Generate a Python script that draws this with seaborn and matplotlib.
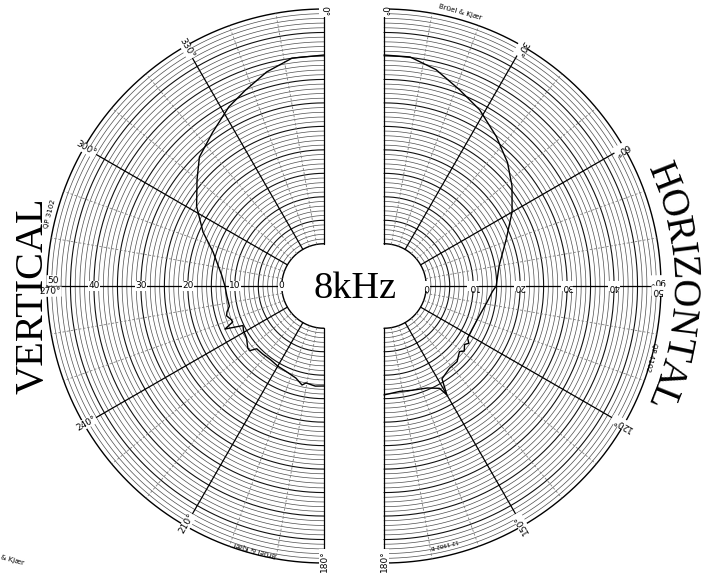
import numpy as np
import pandas as pd
import matplotlib
matplotlib.use("Agg")
import matplotlib.pyplot as plt
import seaborn as sns

# measured response, angle in degrees (0 = on axis), level on the 0..50 dB paper scale
vert_angle = [360, 352, 345, 338, 332, 324, 316, 310, 302, 294, 287, 276, 270, 264, 258,
              255, 253, 250, 248.5, 246.5, 244, 241, 236, 231, 229, 227, 222, 216, 210,
              204, 197, 192.5, 190.5, 185, 180]
vert_level = [40.2, 40.0, 38.2, 35.9, 34.2, 31.4, 29.2, 26.3, 23.0, 19.2, 15.7, 12.9, 12.1,
              11.8, 11.6, 12.4, 12.7, 12.0, 11.9, 14.0, 10.2, 10.6, 10.9, 11.9, 12.0, 10.6,
              10.5, 10.4, 10.7, 10.9, 11.5, 12.6, 12.0, 12.4, 12.3]

horiz_angle = [0, 6.5, 13.5, 21, 28.5, 37, 45, 52, 60, 69, 80, 90, 93, 99, 107, 116, 122,
               124, 126, 129, 131, 136, 141.5, 146, 148, 150, 151.5, 157, 165, 171.5, 180]
horiz_level = [40.2, 40.1, 38.4, 35.8, 33.7, 30.8, 28.2, 25.6, 22.5, 18.9, 15.9, 14.9, 14.1,
               13.2, 12.3, 11.9, 12.0, 12.8, 12.2, 13.0, 12.3, 13.4, 13.4, 14.0, 14.3, 17.8,
               15.8, 14.6, 14.0, 13.7, 14.2]

ring_levels = list(range(0, 51))
db_ticks = [0, 10, 20, 30, 40]
left_angle_labels = [0, 330, 300, 240, 210, 180]
right_angle_labels = [0, 30, 60, 120, 150, 180]
freq_text = "8kHz"

W, H = 709, 573
CY = 286          # centre height (px from top)
R = 277           # outer radius in px
RORIGIN = -9      # hole in the middle of the paper
LEFT_CX, RIGHT_CX = 324, 384
PX_PER_UNIT = R / (50 - RORIGIN)

sns.set_theme(style="white")
plt.rcParams["font.family"] = ["DejaVu Sans"]
plt.rcParams["text.color"] = "black"

fig = plt.figure(figsize=(W / 100, H / 100), dpi=100)
fig.patch.set_facecolor("white")


def half_axes(cx):
    ax = fig.add_axes([(cx - R) / W, (H - CY - R) / H, 2 * R / W, 2 * R / H],
                      projection="polar")
    ax.set_theta_zero_location("N")
    ax.set_theta_direction(-1)
    ax.set_ylim(0, 50)
    ax.set_rorigin(RORIGIN)
    ax.axis("off")
    ax.patch.set_alpha(0)
    return ax


def draw_paper(ax, a0, a1):
    th = np.radians(np.linspace(a0, a1, 361))
    for lv in ring_levels:
        if lv in (0, 50):
            c, lw = "black", 1.0
        elif lv % 5 == 0:
            c, lw = "#111111", 0.8
        else:
            c, lw = "#4d4d4d", 0.5
        ax.plot(th, np.full_like(th, lv), color=c, lw=lw, clip_on=False, zorder=1)
    for a in range(a0, a1 + 1, 10):
        t = np.radians([a, a])
        if a % 30 == 0:
            ax.plot(t, [0, 50], color="black", lw=0.9, clip_on=False, zorder=2)
        else:
            ax.plot(t, [0, 50], color="#808080", lw=0.6, ls=(0, (3, 2)),
                    clip_on=False, zorder=2)


def angle_label(ax, a, txt, r=49.5):
    ax.text(np.radians(a), r, txt, rotation=(270 - a) % 360, ha="center", va="center",
            fontsize=6.5, zorder=5, clip_on=False,
            bbox=dict(fc="white", ec="none", pad=0.4))


def arc_text(ax, a, r, txt, size=5):
    ax.text(np.radians(a), r, txt, rotation=(-a) % 360, ha="center", va="center",
            fontsize=size, zorder=5, clip_on=False)


ax_v = half_axes(LEFT_CX)
ax_h = half_axes(RIGHT_CX)

draw_paper(ax_v, 180, 360)
draw_paper(ax_h, 0, 180)

# vertical (left) labels
for a in left_angle_labels:
    angle_label(ax_v, a, f"{a}°")
angle_label(ax_v, 268.8, "270°", r=49.3)
angle_label(ax_v, 271.2, "50", r=48.8)
for lv in db_ticks:
    ax_v.text(np.radians(270), lv, str(lv), ha="center", va="center", fontsize=6.5,
              zorder=5, bbox=dict(fc="white", ec="none", pad=0.3))

# horizontal (right) labels, printed upside down
for a in right_angle_labels:
    angle_label(ax_h, a, f"{a}°")
angle_label(ax_h, 88.8, "90°", r=49.2)
angle_label(ax_h, 91.0, "50", r=49.3)
for lv in db_ticks:
    ax_h.text(np.radians(90), lv, str(lv), ha="center", va="center", rotation=180,
              fontsize=6.5, zorder=5, bbox=dict(fc="white", ec="none", pad=0.3))

# small print on the paper
arc_text(ax_h, 15.5, 51.5, "Brüel & Kjær")
arc_text(ax_v, 194.8, 49.0, "Brüel & Kjær")
arc_text(ax_v, 284.7, 51.3, "QP 3102")
arc_text(ax_h, 104.9, 49.8, "QP 4102")
arc_text(ax_h, 166.7, 47.5, "12 1982 B", size=4)

# response curves
df_v = pd.DataFrame({"theta": np.radians(vert_angle), "level": vert_level})
df_h = pd.DataFrame({"theta": np.radians(horiz_angle), "level": horiz_level})
sns.lineplot(data=df_v, x="theta", y="level", ax=ax_v, sort=False, estimator=None,
             color="black", lw=1.0, zorder=4)
sns.lineplot(data=df_h, x="theta", y="level", ax=ax_h, sort=False, estimator=None,
             color="black", lw=1.0, zorder=4)
for ax in (ax_v, ax_h):
    ax.set_ylim(0, 50)
    ax.set_rorigin(RORIGIN)
    ax.axis("off")

# big hand lettering
serif = ["Liberation Serif", "DejaVu Serif"]
fig.text(355 / W, 1 - 298 / H, freq_text, ha="center", va="baseline", fontsize=27.5,
         family=serif)
fig.text(33 / W, 1 - 296 / H, "VERTICAL", ha="center", va="center", rotation=90,
         fontsize=29, family=serif)

# HORIZONTAL follows the outer arc of the right half
letters = "HORIZONTAL"
adv = {"H": 0.722, "O": 0.722, "R": 0.667, "I": 0.333, "Z": 0.611,
       "N": 0.722, "T": 0.611, "A": 0.722, "L": 0.611}
size_h = 28
em_px = size_h * 100 / 72
r_txt_px = 298
widths = np.array([adv[c] for c in letters]) * em_px
span = np.degrees(widths.sum() / r_txt_px)
centers = 90 - span / 2 + np.degrees((np.cumsum(widths) - widths / 2) / r_txt_px)
r_txt = r_txt_px / PX_PER_UNIT + RORIGIN
for ch, phi in zip(letters, centers):
    ax_h.text(np.radians(phi), r_txt, ch, rotation=(-phi) % 360, ha="center",
              va="center", fontsize=size_h, family=serif, clip_on=False)

# corner of the next sheet
fig.text(12 / W, 1 - 560 / H, "& Kjær", rotation=-15, fontsize=5, ha="center",
         va="center")

fig.savefig("out.png", dpi=100, facecolor="white")
